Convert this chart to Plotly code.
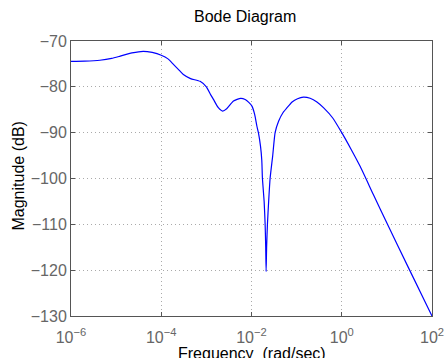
import plotly.graph_objects as go

log_freq = [-6.0, -5.7, -5.36, -5.1, -4.91, -4.65, -4.40, -4.2, -4.0, -3.85, -3.73, -3.6,
            -3.51, -3.35, -3.14, -3.0, -2.9, -2.84, -2.74, -2.64, -2.55, -2.40, -2.24,
            -2.14, -2.06, -1.99, -1.93, -1.88, -1.847, -1.80, -1.772, -1.758, -1.72, -1.698,
            -1.685, -1.676, -1.665, -1.647, -1.62, -1.588, -1.53, -1.477, -1.40, -1.30,
            -1.217, -1.1, -0.98, -0.85, -0.7, -0.55, -0.40, -0.2, 0.0, 0.2, 0.41, 0.7,
            1.0, 1.48, 2.0]
magnitude_db = [-74.45, -74.4, -74.2, -73.8, -73.3, -72.6, -72.25, -72.5, -73.1, -73.9,
                -75.1, -76.4, -77.3, -78.2, -78.8, -80.0, -81.8, -82.8, -84.5, -85.3,
                -84.8, -83.1, -82.5, -82.75, -83.4, -84.2, -86.0, -88.6, -90.0, -93.0,
                -96.0, -100.0, -105.0, -110.0, -115.0, -120.3, -115.0, -110.0, -105.0, -100.0,
                -95.0, -90.0, -87.5, -85.6, -84.6, -83.3, -82.6, -82.25, -82.5, -83.3,
                -84.6, -86.8, -90.0, -93.5, -97.4, -103.5, -109.7, -119.5, -130.0]

x_tick_vals = [1e-6, 1e-4, 1e-2, 1, 100]
x_tick_text = ["10<sup>−6</sup>", "10<sup>−4</sup>", "10<sup>−2</sup>",
               "10<sup>0</sup>", "10<sup>2</sup>"]
y_tick_vals = [-130, -120, -110, -100, -90, -80, -70]

freq = [10 ** e for e in log_freq]

FONT = "Liberation Sans, Arial, sans-serif"

fig = go.Figure()
fig.add_trace(go.Scatter(x=freq, y=magnitude_db, mode="lines",
                         line=dict(color="#0000ff", width=1.2, shape="spline", smoothing=0.5),
                         hoverinfo="skip"))

axis_common = dict(showline=True, linecolor="#555555", linewidth=1, mirror="allticks",
                   ticks="inside", ticklen=4, tickcolor="#555555",
                   showgrid=True, gridcolor="#aaaaaa", griddash="1px,3px", gridwidth=1,
                   zeroline=False, automargin=False,
                   tickfont=dict(family=FONT, size=16, color="#666666"))

fig.update_layout(
    width=445, height=358,
    margin=dict(l=71, r=13, t=41, b=42),
    paper_bgcolor="white", plot_bgcolor="white",
    showlegend=False,
    xaxis=dict(type="log", range=[-6, 2], tickvals=x_tick_vals, ticktext=x_tick_text,
               ticklabelstandoff=7, **axis_common),
    yaxis=dict(range=[-130, -70], tickvals=y_tick_vals, **axis_common),
    annotations=[
        dict(text="Bode Diagram", xref="paper", yref="paper", x=0.482, y=1.0,
             xanchor="center", yanchor="middle", yshift=25, showarrow=False,
             font=dict(family=FONT, size=16, color="#000000")),
        dict(text="Frequency  (rad/sec)", xref="paper", yref="paper", x=0.5, y=0,
             xanchor="center", yanchor="top", yshift=-27, showarrow=False,
             font=dict(family=FONT, size=16, color="#000000")),
        dict(text="Magnitude (dB)", xref="paper", yref="paper", x=0, y=0.5,
             xanchor="center", yanchor="middle", xshift=-53, yshift=2, textangle=-90,
             showarrow=False,
             font=dict(family=FONT, size=16, color="#000000")),
    ],
)

fig.write_html("out.html")
